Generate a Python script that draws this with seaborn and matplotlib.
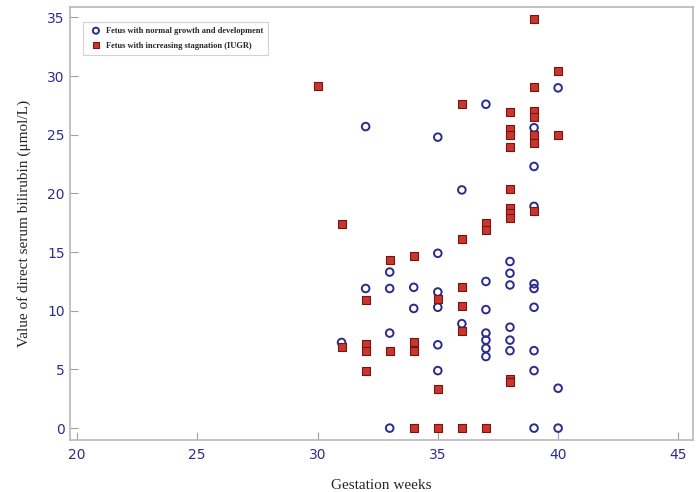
import pandas as pd
import matplotlib
matplotlib.use("Agg")
import matplotlib.pyplot as plt
import seaborn as sns
from matplotlib.ticker import MultipleLocator

# normal growth group (blue circles)
normal_weeks = [31, 32, 32, 33, 33, 33, 33, 34, 34,
                35, 35, 35, 35, 35, 35, 36, 36,
                37, 37, 37, 37, 37, 37, 37,
                38, 38, 38, 38, 38, 38,
                39, 39, 39, 39, 39, 39, 39, 39, 39,
                40, 40, 40]
normal_vals = [7.3, 25.7, 11.9, 13.3, 11.9, 8.1, 0.0, 12.0, 10.2,
               24.8, 14.9, 11.6, 10.3, 7.1, 4.9, 20.3, 8.9,
               27.6, 12.5, 10.1, 8.1, 7.5, 6.8, 6.1,
               14.2, 13.2, 12.2, 8.6, 7.5, 6.6,
               25.6, 22.3, 18.9, 12.3, 11.9, 10.3, 6.6, 4.9, 0.0,
               29.0, 3.4, 0.0]

# IUGR group (red squares)
iugr_weeks = [30, 31, 31, 32, 32, 32, 32, 33, 33,
              34, 34, 34, 34, 35, 35, 35,
              36, 36, 36, 36, 36, 36, 37, 37, 37,
              38, 38, 38, 38, 38, 38, 38, 38, 38, 38,
              39, 39, 39, 39, 39, 39, 39, 40, 40]
iugr_vals = [29.2, 17.4, 6.9, 10.9, 7.2, 6.6, 4.9, 14.3, 6.6,
             14.7, 7.3, 6.6, 0.0, 11.0, 3.3, 0.0,
             27.6, 16.1, 12.0, 10.4, 8.3, 0.0, 17.5, 16.9, 0.0,
             26.9, 25.5, 25.0, 24.0, 20.4, 18.8, 18.3, 17.9, 4.2, 3.9,
             34.9, 29.1, 27.0, 26.5, 25.0, 24.3, 18.5, 30.4, 25.0]

normal_label = "Fetus with normal growth and development"
iugr_label = "Fetus with increasing stagnation (IUGR)"

df_normal = pd.DataFrame({"week": normal_weeks, "value": normal_vals})
df_iugr = pd.DataFrame({"week": iugr_weeks, "value": iugr_vals})

sns.set_style("white")

fig = plt.figure(figsize=(6.97, 4.92), dpi=100)
ax = fig.add_axes([0.100, 0.106, 0.894, 0.880])

sns.scatterplot(data=df_normal, x="week", y="value", ax=ax, marker="o", s=30,
                facecolor="none", edgecolor="#2b2b8f", linewidth=1.4,
                label=normal_label)
sns.scatterplot(data=df_iugr, x="week", y="value", ax=ax, marker="s", s=38,
                color="#c8372d", edgecolor="#7a1414", linewidth=0.8,
                label=iugr_label)

ax.set_xlim(19.7, 45.6)
ax.set_ylim(-1.0, 35.9)
ax.xaxis.set_major_locator(MultipleLocator(5))
ax.xaxis.set_minor_locator(MultipleLocator(2.5))
ax.yaxis.set_major_locator(MultipleLocator(5))

for s in ax.spines.values():
    s.set_color("#b8b8b8")
    s.set_linewidth(1.2)

ax.tick_params(axis="both", which="major", direction="in", length=6,
               color="#a0a0a0", labelcolor="#2e2e8a", labelsize=10)
ax.tick_params(axis="x", which="major", pad=6)
ax.tick_params(axis="x", which="minor", direction="in", length=3,
               color="#c0c0c0")
ax.tick_params(left=True, bottom=True)

ax.set_xlabel("Gestation weeks", fontsize=11, family="Liberation Serif",
              labelpad=12)
ax.set_ylabel("Value of direct serum bilirubin (\u03bcmol/L)", fontsize=11,
              family="Liberation Serif", labelpad=12)

leg = ax.legend(loc="upper left", bbox_to_anchor=(0.014, 0.975),
                prop={"family": "Liberation Serif", "size": 6, "weight": "bold"},
                frameon=True, fancybox=False, handletextpad=0.2,
                borderpad=0.6, labelspacing=0.8, markerscale=0.8)
leg.get_frame().set_edgecolor("#c8c8c8")
leg.get_frame().set_linewidth(0.8)

fig.savefig("out.png", dpi=100)
